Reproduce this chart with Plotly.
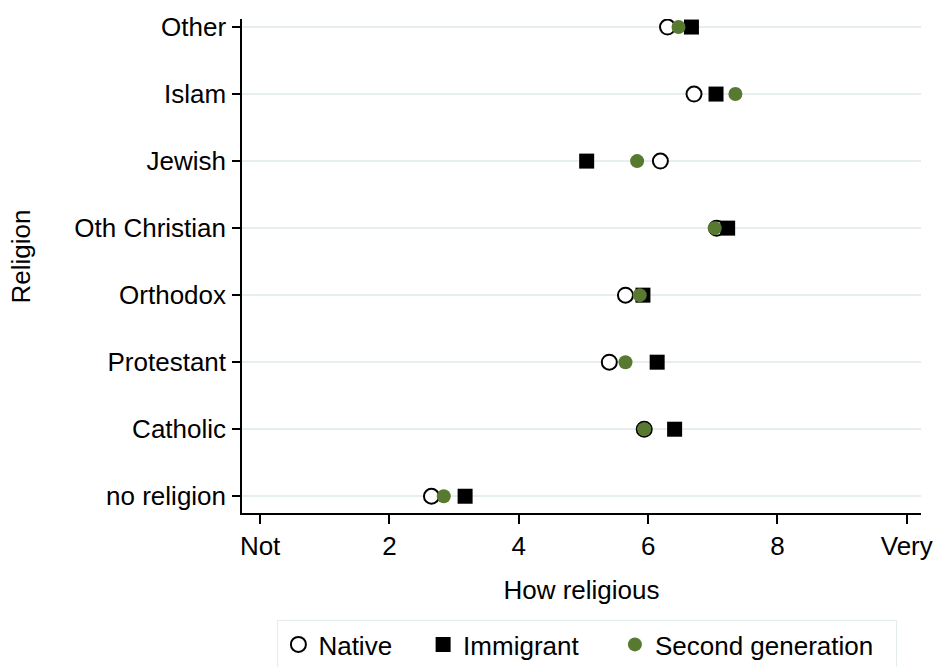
import plotly.graph_objects as go

# Religion categories, bottom to top
religions = ["no religion", "Catholic", "Protestant", "Orthodox",
             "Oth Christian", "Jewish", "Islam", "Other"]

# Mean self-rated religiosity (0 = Not, 10 = Very) by generation
native = [2.65, 5.94, 5.40, 5.65, 7.06, 6.19, 6.71, 6.30]
immigrant = [3.17, 6.41, 6.14, 5.92, 7.23, 5.05, 7.05, 6.67]
second_gen = [2.84, 5.94, 5.65, 5.87, 7.03, 5.83, 7.35, 6.47]

x_tickvals = [0, 2, 4, 6, 8, 10]
x_ticktext = ["Not", "2", "4", "6", "8", "Very"]

FONT = "Liberation Sans, Arial, sans-serif"
FS = 26
GREEN = "#587a30"
PAD = "\u2002\u2002"  # extra room between legend entries

fig = go.Figure()
fig.add_trace(go.Scatter(
    x=native, y=religions, mode="markers", name="Native" + PAD,
    marker=dict(symbol="circle", size=15, color="white",
                line=dict(color="black", width=2)),
))
fig.add_trace(go.Scatter(
    x=immigrant, y=religions, mode="markers", name="Immigrant" + PAD + "\u2009",
    marker=dict(symbol="square", size=15, color="black", line=dict(width=0)),
))
fig.add_trace(go.Scatter(
    x=second_gen, y=religions, mode="markers",
    name="Second generation\u2002\u2009",
    marker=dict(symbol="circle", size=14, color=GREEN, line=dict(width=0)),
))

fig.update_layout(
    width=945, height=667,
    margin=dict(l=242, r=14, t=17, b=154),
    paper_bgcolor="white", plot_bgcolor="white",
    font=dict(family=FONT, size=FS, color="black"),
    showlegend=True,
    legend=dict(
        orientation="h", xref="paper", x=0.5087, xanchor="center",
        yref="container", y=0.0705, yanchor="top",
        bordercolor="#e4ecee", borderwidth=1, bgcolor="white",
        font=dict(family=FONT, size=FS, color="black"),
        itemsizing="trace", tracegroupgap=0,
    ),
    xaxis=dict(
        range=[-0.28, 10.22], tickvals=x_tickvals, ticktext=x_ticktext,
        tickfont=dict(family=FONT, size=FS, color="black"),
        showgrid=False, zeroline=False,
        showline=True, linecolor="black", linewidth=1.5,
        ticks="outside", ticklen=9, tickwidth=1.5, tickcolor="black",
        title=dict(text="How religious", standoff=21,
                   font=dict(family=FONT, size=FS, color="black")),
    ),
    yaxis=dict(
        type="category", categoryorder="array", categoryarray=religions,
        range=[-0.25, 7.12],
        tickfont=dict(family=FONT, size=FS, color="black"),
        showgrid=True, gridcolor="#e6eef0", gridwidth=2,
        zeroline=False,
        showline=True, linecolor="black", linewidth=1.5,
        ticks="outside", ticklen=8, tickwidth=1.5, tickcolor="black",
        ticklabelstandoff=1,
        title=None,
    ),
    annotations=[dict(
        text="Religion", textangle=-90, xref="paper", yref="paper",
        x=-0.325, y=0.52, xanchor="center", yanchor="middle",
        showarrow=False, font=dict(family=FONT, size=FS, color="black"),
    )],
)

fig.write_html("out.html")
